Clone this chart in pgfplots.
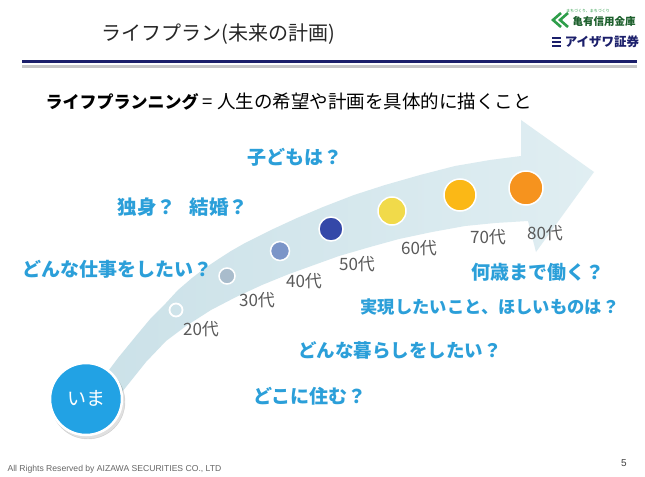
\documentclass[border=0pt]{standalone}
\usepackage{pgfplots}
\pgfplotsset{compat=1.18}
\usepackage{fontspec}
\setmainfont{Noto Sans CJK JP}
\newfontfamily\lat{Liberation Sans}
\definecolor{qblue}{HTML}{2B9FD9}
\definecolor{arrowA}{HTML}{CBE1E8}
\definecolor{arrowB}{HTML}{E0EEF2}
\definecolor{agegray}{HTML}{5A5A5A}
\definecolor{navy}{HTML}{1B1F6B}
\definecolor{imablue}{HTML}{22A2E4}
\definecolor{dA}{HTML}{A9BCCC}
\definecolor{dB}{HTML}{7B95C8}
\definecolor{dC}{HTML}{3448A8}
\definecolor{dD}{HTML}{F1DA4A}
\definecolor{dE}{HTML}{FBB816}
\definecolor{dF}{HTML}{F6931E}
\definecolor{logogreen}{HTML}{2E9E4A}
\newcommand{\fs}[1]{\fontsize{#1}{#1}\selectfont}
\begin{document}
\begin{tikzpicture}
\begin{axis}[scale only axis, width=645pt, height=475pt,
  xmin=0, xmax=645, ymin=0, ymax=475, y dir=reverse,
  hide axis, clip=false]
% background
\addplot[fill=white, draw=none] coordinates {(0,0)(645,0)(645,475)(0,475)} --cycle;
% header lines
\addplot[navy, line width=3pt] coordinates {(22,62)(637,62)};
\addplot[black!22, line width=2.5pt] coordinates {(22,66.5)(637,66.5)};
% logo
\addplot[logogreen, line width=2.6pt] coordinates {(561,13)(553,20)(561,27)};
\addplot[logogreen, line width=2.6pt] coordinates {(568,13)(560,20)(568,27)};
\addplot[navy, line width=1.5pt] coordinates {(552,38)(561,38)};
\addplot[navy, line width=1.5pt] coordinates {(552,42)(561,42)};
\addplot[navy, line width=1.5pt] coordinates {(552,46)(561,46)};
% arrow
\addplot[left color=arrowA, right color=arrowB, draw=none] coordinates {
(100,382)(118,358)(136,336)(151,318)(166,303)(178,290)(192,278)(205,268)(217,260)(231,251)(245,243)(271,230)(297,218)
(323,207)(354,195)(385,185)(420,175)(455,166)(490,160)(521,156)
(521,120)(594,172)(536,252)
(528,221)(495,223)(465,226)(432,232)(399,239)(370,247)(339,256)(314,265)
(289,274)(262,285)(236,297)(211,310)(186,326)(166,341)(146,362)(122,392)} --cycle;
% dots
\addplot[only marks, mark=o, mark size=6.5pt, mark options={draw=white, line width=1.8pt}] coordinates {(176,310)};
\addplot[only marks, mark=*, mark size=8pt, mark options={fill=dA, draw=white, line width=1.5pt}] coordinates {(227,276)};
\addplot[only marks, mark=*, mark size=9.5pt, mark options={fill=dB, draw=white, line width=1.5pt}] coordinates {(280,251)};
\addplot[only marks, mark=*, mark size=12pt, mark options={fill=dC, draw=white, line width=1.5pt}] coordinates {(331,229)};
\addplot[only marks, mark=*, mark size=14pt, mark options={fill=dD, draw=white, line width=1.5pt}] coordinates {(392,211)};
\addplot[only marks, mark=*, mark size=16pt, mark options={fill=dE, draw=white, line width=1.5pt}] coordinates {(460,195)};
\addplot[only marks, mark=*, mark size=17pt, mark options={fill=dF, draw=white, line width=1.5pt}] coordinates {(526,188)};
% ima circle
\addplot[only marks, mark=*, mark size=37pt, mark options={fill=black, draw=none, opacity=0.12}] coordinates {(88,402)};
\addplot[only marks, mark=*, mark size=36pt, mark options={fill=imablue, draw=white, line width=2.5pt},
  point meta=explicit symbolic, nodes near coords,
  every node near coord/.append style={anchor=center, text=white, font=\fs{19}, yshift=1pt}]
  coordinates {(86,399)[いま]};
% texts
\node[text=black!85] at (axis cs:218,34) {\fs{20}ライフプラン(未来の計画)};
\node[anchor=west, text=black] at (axis cs:42,102) {\fs{17}\bfseries ライフプランニング\fs{18.5}\mdseries{} = 人生の希望や計画を具体的に描くこと};
\node[text=logogreen!60!black] at (axis cs:604,22) {\fs{10.5}\bfseries 亀有信用金庫};
\node[text=logogreen] at (axis cs:588,11) {\fs{4}まちづくり、まちづくり};
\node[text=navy] at (axis cs:602,42) {\fs{12.5}\bfseries アイザワ証券};
\foreach \t/\x/\y in {20代/201/329, 30代/257/300, 40代/304/281, 50代/357/264, 60代/419/248, 70代/488/237, 80代/545/233}{
  \edef\tmp{\noexpand\node[text=agegray] at (axis cs:\x,\y) {\noexpand\fs{17}\t};}\tmp
}
\node[text=qblue] at (axis cs:295,157) {\fs{19}\bfseries 子どもは？};
\node[text=qblue] at (axis cs:183,207) {\fs{19.5}\bfseries 独身？\hspace{14pt}結婚？};
\node[text=qblue] at (axis cs:117,269) {\fs{19}\bfseries どんな仕事をしたい？};
\node[text=qblue] at (axis cs:538,272) {\fs{19}\bfseries 何歳まで働く？};
\node[text=qblue] at (axis cs:490,307) {\fs{17.3}\bfseries 実現したいこと、ほしいものは？};
\node[text=qblue] at (axis cs:400,350) {\fs{18.5}\bfseries どんな暮らしをしたい？};
\node[text=qblue] at (axis cs:310,396) {\fs{19}\bfseries どこに住む？};
\node[anchor=west, text=black!60] at (axis cs:4,469) {\lat\fs{8.6}All Rights Reserved by AIZAWA SECURITIES CO., LTD};
\node[text=black!75] at (axis cs:624,463) {\lat\fs{10}5};
\end{axis}
\end{tikzpicture}
\end{document}
